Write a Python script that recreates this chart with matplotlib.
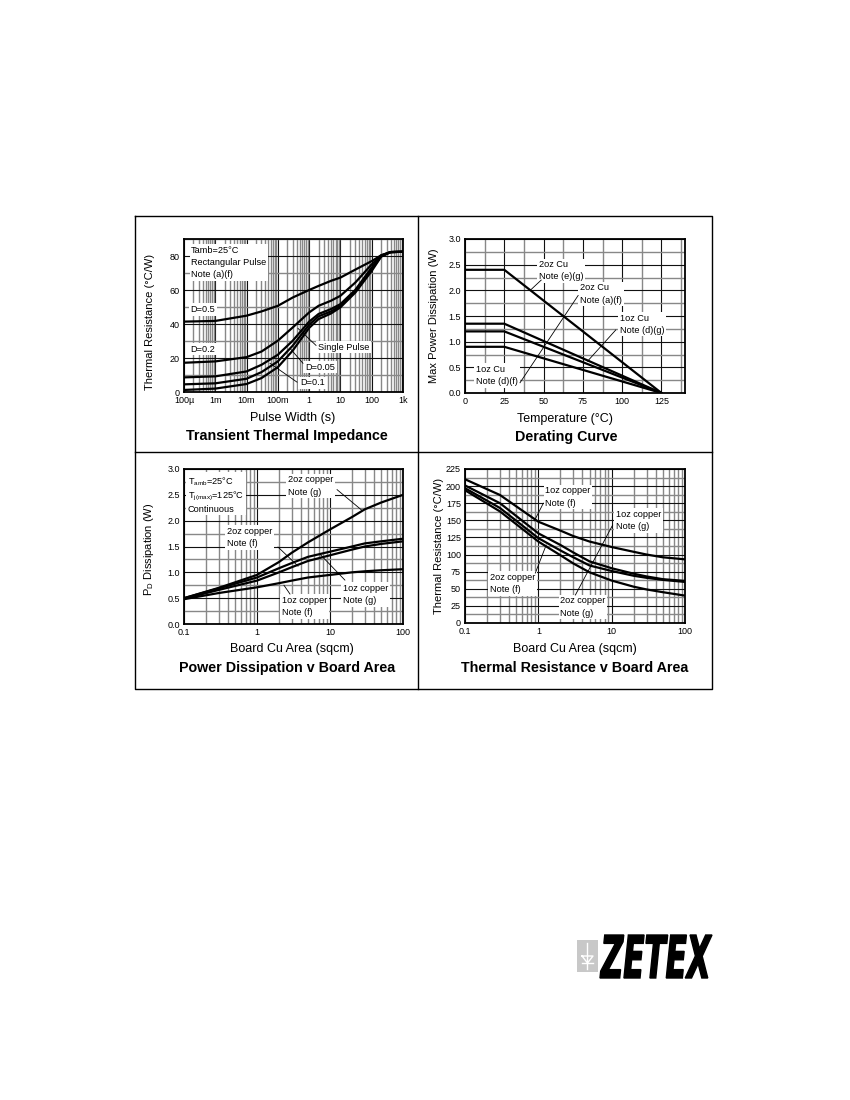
import matplotlib
matplotlib.use("Agg")
import matplotlib.pyplot as plt
import numpy as np
from matplotlib.ticker import FixedLocator, MultipleLocator, LogLocator, NullFormatter
from matplotlib.textpath import TextPath
from matplotlib.patches import PathPatch, Rectangle
from matplotlib.font_manager import FontProperties
from matplotlib.transforms import Affine2D

plt.rcParams["font.family"] = ["Liberation Sans", "DejaVu Sans"]
plt.rcParams["mathtext.fontset"] = "custom"
plt.rcParams["mathtext.rm"] = "Liberation Sans"
plt.rcParams["mathtext.it"] = "Liberation Sans:italic"

# --- Transient thermal impedance (deg C/W vs pulse width in s)
pulse_width = [1e-4, 1e-3, 1e-2, 3e-2, 0.1, 0.3, 1, 2, 5, 10, 30, 100, 200, 400, 1000]
z_d050 = [41.4, 41.8, 44.9, 47.4, 50.7, 55.6, 60.0, 62.4, 65.4, 67.3, 72.0, 77.0, 80.4, 82.3, 82.5]
z_d020 = [17.2, 18.0, 20.5, 23.8, 30.2, 38.0, 46.8, 50.7, 53.7, 56.6, 64.4, 75.1, 80.4, 82.3, 82.5]
z_d010 = [8.6, 9.2, 12.1, 16.0, 21.9, 30.2, 41.4, 45.9, 48.8, 51.7, 60.1, 73.2, 80.0, 82.3, 82.5]
z_d005 = [4.5, 5.1, 7.8, 11.7, 18.0, 27.3, 39.6, 44.5, 47.4, 50.7, 59.3, 72.2, 79.8, 82.3, 82.5]
z_single = [1.2, 2.0, 4.7, 8.2, 14.6, 24.4, 37.7, 42.9, 46.2, 49.8, 58.5, 71.2, 79.6, 82.3, 82.5]
pw_ticks = [1e-4, 1e-3, 1e-2, 0.1, 1, 10, 100, 1000]
pw_labels = ["100\u00b5", "1m", "10m", "100m", "1", "10", "100", "1k"]

# --- Derating curve (W vs deg C)
temp = [0, 25, 125]
p_2oz_eg = [2.4, 2.4, 0.0]
p_2oz_af = [1.35, 1.35, 0.0]
p_1oz_dg = [1.2, 1.2, 0.0]
p_1oz_df = [0.9, 0.9, 0.0]

# --- Board area curves (sqcm)
area = [0.1, 0.3, 1, 2, 3, 5, 10, 20, 30, 50, 100]
pd_2oz_g = [0.50, 0.70, 0.95, 1.20, 1.38, 1.58, 1.83, 2.07, 2.22, 2.35, 2.50]
pd_2oz_f = [0.50, 0.69, 0.90, 1.08, 1.18, 1.30, 1.40, 1.50, 1.56, 1.60, 1.65]
pd_1oz_g = [0.49, 0.66, 0.84, 1.00, 1.10, 1.22, 1.33, 1.44, 1.50, 1.55, 1.60]
pd_1oz_f = [0.48, 0.60, 0.71, 0.79, 0.84, 0.90, 0.95, 1.00, 1.02, 1.04, 1.06]

rth_1oz_f = [210, 187, 148, 135, 127, 119, 111, 104, 100, 96, 93]
rth_1oz_g = [201, 175, 131, 114, 103, 90, 80, 72, 68, 64, 61.5]
rth_2oz_f = [197, 168, 124, 106, 96, 84, 76, 69, 66, 63, 60]
rth_2oz_g = [194, 163, 119, 99, 87, 74, 62, 53, 49, 45, 40]
area_ticks = [0.1, 1, 10, 100]
area_labels = ["0.1", "1", "10", "100"]

W, H = 850, 1100
fig = plt.figure(figsize=(8.5, 11), dpi=100)
fig.patch.set_facecolor("white")

bg = fig.add_axes([0, 0, 1, 1], zorder=-1)
bg.set_xlim(0, W)
bg.set_ylim(H, 0)
bg.axis("off")


def px_axes(box):
    l, t, r, b = box
    return fig.add_axes([l / W, 1 - b / H, (r - l) / W, (b - t) / H])


def style(ax):
    for s in ax.spines.values():
        s.set_linewidth(1.3)
    ax.tick_params(which="both", length=0, labelsize=6.5, pad=3)
    ax.grid(which="major", color="#111111", lw=0.8)
    ax.grid(which="minor", color="#888888", lw=1.0)
    ax.set_axisbelow(True)


def labels(ax, box, xl, yl, title, xl_pos, yl_pos, title_pos):
    l, t, r, b = box
    ax.set_xlabel(xl, fontsize=9)
    ax.xaxis.label.set_va("center")
    ax.xaxis.set_label_coords((xl_pos[0] - l) / (r - l), (b - xl_pos[1]) / (b - t))
    ax.set_ylabel(yl, fontsize=8)
    ax.yaxis.label.set_va("center")
    ax.yaxis.set_label_coords((yl_pos[0] - l) / (r - l), (b - yl_pos[1]) / (b - t))
    bg.text(title_pos[0], title_pos[1], title, ha="center", va="center",
            fontsize=10.3, fontweight="bold")


def note(ax, x, y, s, ha="left", spacing=1.45):
    ax.text(x, y, s, fontsize=6.6, ha=ha, va="center", linespacing=spacing,
            bbox=dict(fc="white", ec="none", pad=1.2), zorder=4)


def leader(ax, p0, p1):
    ax.plot([p0[0], p1[0]], [p0[1], p1[1]], color="black", lw=0.6, zorder=5)


def log_axis(ax, ticks, tick_labels):
    ax.set_xscale("log")
    ax.xaxis.set_major_locator(FixedLocator(ticks))
    ax.set_xticklabels(tick_labels)
    ax.xaxis.set_minor_locator(LogLocator(base=10, subs=np.arange(2, 10)))
    ax.xaxis.set_minor_formatter(NullFormatter())


# outer frame
bg.plot([135, 712, 712, 135, 135], [216, 216, 689, 689, 216], color="black", lw=1)
bg.plot([418, 418], [216, 689], color="black", lw=1)
bg.plot([135, 712], [452, 452], color="black", lw=1)

curve = dict(color="black", lw=1.6, zorder=3)

# ---------------- Transient Thermal Impedance
box1 = (184, 239, 403, 392)
ax1 = px_axes(box1)
for z in [z_d050, z_d020, z_d010, z_d005, z_single]:
    ax1.plot(pulse_width, z, **curve)
log_axis(ax1, pw_ticks, pw_labels)
ax1.set_xlim(1e-4, 1e3)
ax1.set_ylim(0, 90)
ax1.yaxis.set_major_locator(FixedLocator([0, 20, 40, 60, 80]))
ax1.yaxis.set_minor_locator(MultipleLocator(10))
style(ax1)
labels(ax1, box1, "Pulse Width (s)", "Thermal Resistance (\u00b0C/W)",
       "Transient Thermal Impedance", (293, 418), (150, 322), (287, 436))
note(ax1, 1.7e-4, 76, "Tamb=25\u00b0C\nRectangular Pulse\nNote (a)(f)")
note(ax1, 1.6e-4, 48.5, "D=0.5")
note(ax1, 1.6e-4, 25.1, "D=0.2")
note(ax1, 1.92, 26.3, "Single Pulse")
note(ax1, 0.74, 14.6, "D=0.05")
note(ax1, 0.51, 5.3, "D=0.1")
leader(ax1, (1.66, 27.4), (0.44, 37.4))
leader(ax1, (0.635, 16.9), (0.244, 25.7))
leader(ax1, (0.41, 5.8), (0.056, 16.9))

# ---------------- Derating Curve
box2 = (465, 239, 685, 393)
ax2 = px_axes(box2)
for p in [p_2oz_eg, p_2oz_af, p_1oz_dg, p_1oz_df]:
    ax2.plot(temp, p, **curve)
ax2.set_xlim(0, 140)
ax2.set_ylim(0, 3.0)
ax2.xaxis.set_major_locator(FixedLocator([0, 25, 50, 75, 100, 125]))
ax2.xaxis.set_minor_locator(MultipleLocator(12.5))
ax2.yaxis.set_major_locator(MultipleLocator(0.5))
ax2.yaxis.set_minor_locator(MultipleLocator(0.25))
ax2.yaxis.set_major_formatter(plt.FormatStrFormatter("%.1f"))
style(ax2)
labels(ax2, box2, "Temperature (\u00b0C)", "Max Power Dissipation (W)",
       "Derating Curve", (565, 419), (434, 316), (566, 437))
note(ax2, 47.1, 2.38, "2oz Cu\nNote (e)(g)")
note(ax2, 73.2, 1.93, "2oz Cu\nNote (a)(f)")
note(ax2, 98.6, 1.34, "1oz Cu\nNote (d)(g)")
note(ax2, 7.0, 0.34, "1oz Cu\nNote (d)(f)")
leader(ax2, (48.5, 2.2), (41.5, 2.0))
leader(ax2, (72.0, 1.9), (35.0, 0.2))
leader(ax2, (96.0, 1.23), (78.0, 0.62))

# ---------------- Power Dissipation v Board Area
box3 = (184, 469, 403, 624)
ax3 = px_axes(box3)
for p in [pd_2oz_g, pd_2oz_f, pd_1oz_g, pd_1oz_f]:
    ax3.plot(area, p, **curve)
log_axis(ax3, area_ticks, area_labels)
ax3.set_xlim(0.1, 100)
ax3.set_ylim(0, 3.0)
ax3.yaxis.set_major_locator(MultipleLocator(0.5))
ax3.yaxis.set_minor_locator(MultipleLocator(0.25))
ax3.yaxis.set_major_formatter(plt.FormatStrFormatter("%.1f"))
style(ax3)
labels(ax3, box3, "Board Cu Area (sqcm)", r"P$_{\mathrm{D}}$ Dissipation (W)",
       "Power Dissipation v Board Area", (292, 649), (149, 549), (287, 668))
note(ax3, 0.113, 2.51, "T$_{\\mathrm{amb}}$=25\u00b0C\nT$_{\\mathrm{j(max)}}$=125\u00b0C\nContinuous",
     spacing=1.25)
note(ax3, 2.66, 2.67, "2oz copper\nNote (g)")
note(ax3, 0.388, 1.675, "2oz copper\nNote (f)")
note(ax3, 15.1, 0.57, "1oz copper\nNote (g)")
note(ax3, 2.2, 0.335, "1oz copper\nNote (f)")
leader(ax3, (12.5, 2.6), (27.4, 2.2))
leader(ax3, (1.94, 1.49), (3.65, 1.12))
leader(ax3, (16.0, 0.85), (7.3, 1.35))
leader(ax3, (2.83, 0.58), (2.34, 0.75))

# ---------------- Thermal Resistance v Board Area
box4 = (465, 469, 685, 623)
ax4 = px_axes(box4)
for r in [rth_1oz_f, rth_1oz_g, rth_2oz_f, rth_2oz_g]:
    ax4.plot(area, r, **curve)
log_axis(ax4, area_ticks, area_labels)
ax4.set_xlim(0.1, 100)
ax4.set_ylim(0, 225)
ax4.yaxis.set_major_locator(MultipleLocator(25))
ax4.yaxis.set_minor_locator(MultipleLocator(12.5))
style(ax4)
labels(ax4, box4, "Board Cu Area (sqcm)", "Thermal Resistance (\u00b0C/W)",
       "Thermal Resistance v Board Area", (575, 649), (439, 546), (575, 668))
note(ax4, 1.24, 184, "1oz copper\nNote (f)")
note(ax4, 11.3, 150, "1oz copper\nNote (g)")
note(ax4, 0.22, 57.7, "2oz copper\nNote (f)")
note(ax4, 2.0, 23.4, "2oz copper\nNote (g)")
leader(ax4, (1.17, 175), (0.88, 149))
leader(ax4, (0.91, 73), (1.28, 114))
leader(ax4, (3.2, 40.9), (10.3, 143))

# ---------------- ZETEX logo
bg.add_patch(Rectangle((577, 940), 21, 32, fc="#c8c8c8", ec="none"))
bg.plot([587.5, 587.5], [943, 969], color="white", lw=1)
bg.plot([582, 593, 587.5, 582], [956, 956, 963, 956], color="white", lw=1)
bg.plot([582, 593], [963, 963], color="white", lw=1)
tp = TextPath((0, 0), "ZETEX", size=50,
              prop=FontProperties(family="DejaVu Sans", weight="bold", style="italic"))
ext = tp.get_extents()
sx = 112 / ext.width
sy = 43 / ext.height
tr = Affine2D().translate(-ext.x0, -ext.y0).scale(sx, -sy).translate(600, 978)
bg.add_patch(PathPatch(tr.transform_path(tp), fc="black", ec="black", lw=1.0))

fig.savefig("out.png", dpi=100)
